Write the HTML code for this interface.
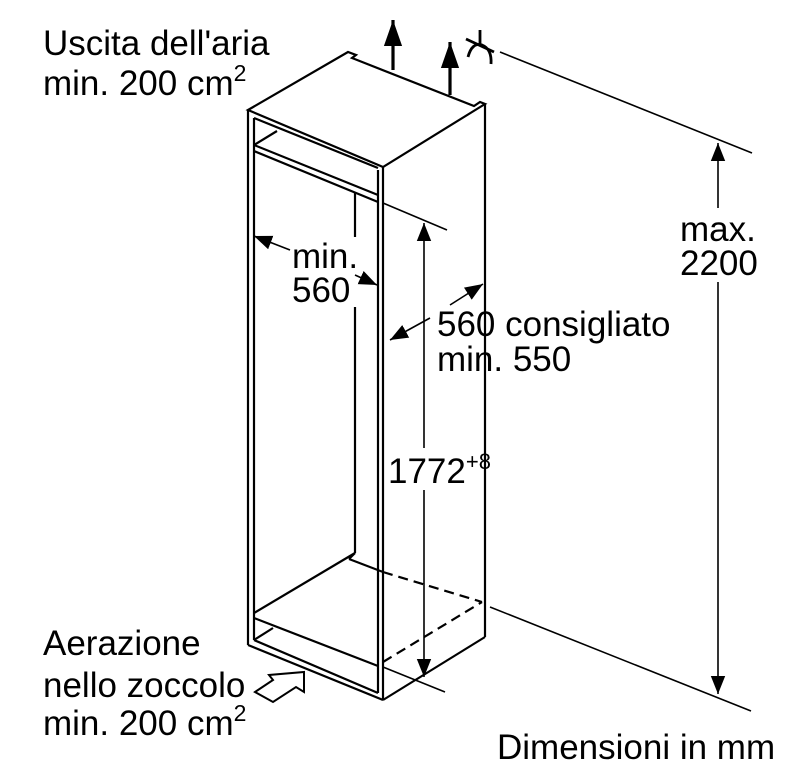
<!DOCTYPE html>
<html><head><meta charset="utf-8"><style>
html,body{margin:0;padding:0;background:#fff;}
svg{display:block;}
text{font-family:"Liberation Sans",Arial,sans-serif;font-size:35px;fill:#000;}
</style></head><body>
<svg width="788" height="778" viewBox="0 0 788 778" xmlns="http://www.w3.org/2000/svg">
<defs>
<marker id="b" viewBox="0 0 10 10" refX="10" refY="5" markerWidth="18" markerHeight="18" markerUnits="userSpaceOnUse" orient="auto"><path d="M0,1 L10,5 L0,9 Z"/></marker>
<marker id="c" viewBox="0 0 10 10" refX="10" refY="5" markerWidth="26" markerHeight="26" markerUnits="userSpaceOnUse" orient="auto"><path d="M0,1.5 L10,5 L0,8.5 Z"/></marker>
</defs>
<g stroke="#000" stroke-width="2.2" fill="none" stroke-linejoin="miter">
<path d="M248,110 L348,52 L356,55 L352,58 L474,106 L480,102 L485,104 L383,167 Z"/>
<line x1="248" y1="110" x2="248" y2="645"/>
<line x1="254" y1="118" x2="254" y2="640"/>
<line x1="383" y1="167" x2="383" y2="700"/>
<line x1="378" y1="170" x2="378" y2="693"/>
<line x1="485" y1="104" x2="485" y2="637"/>
<line x1="248" y1="645" x2="383" y2="700"/>
<line x1="383" y1="700" x2="485" y2="637"/>
<line x1="254" y1="118" x2="378" y2="168"/>
<line x1="254" y1="145" x2="378" y2="195"/>
<line x1="254" y1="151" x2="378" y2="202"/>
<line x1="254" y1="145" x2="277" y2="131"/>
<line x1="355" y1="193" x2="355" y2="237"/>
<line x1="355" y1="307" x2="355" y2="553"/>
<line x1="254" y1="613" x2="355" y2="553"/>
<line x1="349" y1="559" x2="383" y2="572"/>
<line x1="349" y1="559" x2="355" y2="553"/>
<line x1="383" y1="572" x2="482" y2="602" stroke-dasharray="10,6"/>
<line x1="383" y1="662" x2="482" y2="602" stroke-dasharray="10,6"/>
<line x1="254" y1="618" x2="378" y2="666"/>
<line x1="254" y1="640" x2="378" y2="693"/>
<line x1="254" y1="640" x2="273" y2="628"/>
<line x1="383" y1="203" x2="447" y2="230" stroke-width="1.6"/>
<line x1="383" y1="667" x2="445" y2="692" stroke-width="1.6"/>
<line x1="500" y1="52" x2="752" y2="153" stroke-width="1.6"/>
<line x1="490" y1="607" x2="751" y2="711" stroke-width="1.6"/>
<line x1="424" y1="448" x2="424" y2="223" stroke-width="1.6" marker-end="url(#b)"/>
<line x1="424" y1="490" x2="424" y2="677" stroke-width="1.6" marker-end="url(#b)"/>
<line x1="718" y1="208" x2="718" y2="143" stroke-width="1.6" marker-end="url(#b)"/>
<line x1="718" y1="282" x2="718" y2="694" stroke-width="1.6" marker-end="url(#b)"/>
<line x1="290" y1="250" x2="254" y2="236" stroke-width="1.6" marker-end="url(#b)"/>
<line x1="355" y1="275" x2="377" y2="285" stroke-width="1.6" marker-end="url(#b)"/>
<line x1="450" y1="305" x2="483" y2="284" stroke-width="1.6" marker-end="url(#b)"/>
<line x1="430" y1="318" x2="390" y2="340" stroke-width="1.6" marker-end="url(#b)"/>
<line x1="393" y1="70" x2="393" y2="20" stroke-width="3.2" marker-end="url(#c)"/>
<line x1="450" y1="95" x2="450" y2="42" stroke-width="3.2" marker-end="url(#c)"/>
<line x1="480" y1="30" x2="480" y2="46" stroke-width="2.8"/>
<line x1="466" y1="39" x2="494" y2="52" stroke-width="2.8"/>
<path d="M468,57 Q472,42 482,45 Q492,49 491,64" stroke-width="2.8"/>
<path d="M255,692 L273,680 L269,675 L304,672 L304,692 L296,687 L273,702 Z" stroke-width="2"/>
</g>
<text x="43" y="55">Uscita dell'aria</text>
<text x="43" y="95">min. 200 cm<tspan dy="-14" font-size="23">2</tspan></text>
<text x="680" y="241">max.</text>
<text x="680" y="275">2200</text>
<text x="292" y="268">min.</text>
<text x="292" y="302">560</text>
<text x="437" y="336">560 consigliato</text>
<text x="437" y="371">min. 550</text>
<text x="388" y="483" font-size="32">1772<tspan dy="-14" font-size="22">+8</tspan></text>
<text x="43" y="655">Aerazione</text>
<text x="43" y="697">nello zoccolo</text>
<text x="43" y="735">min. 200 cm<tspan dy="-14" font-size="23">2</tspan></text>
<text x="497" y="759">Dimensioni in mm</text>
</svg>
</body></html>
